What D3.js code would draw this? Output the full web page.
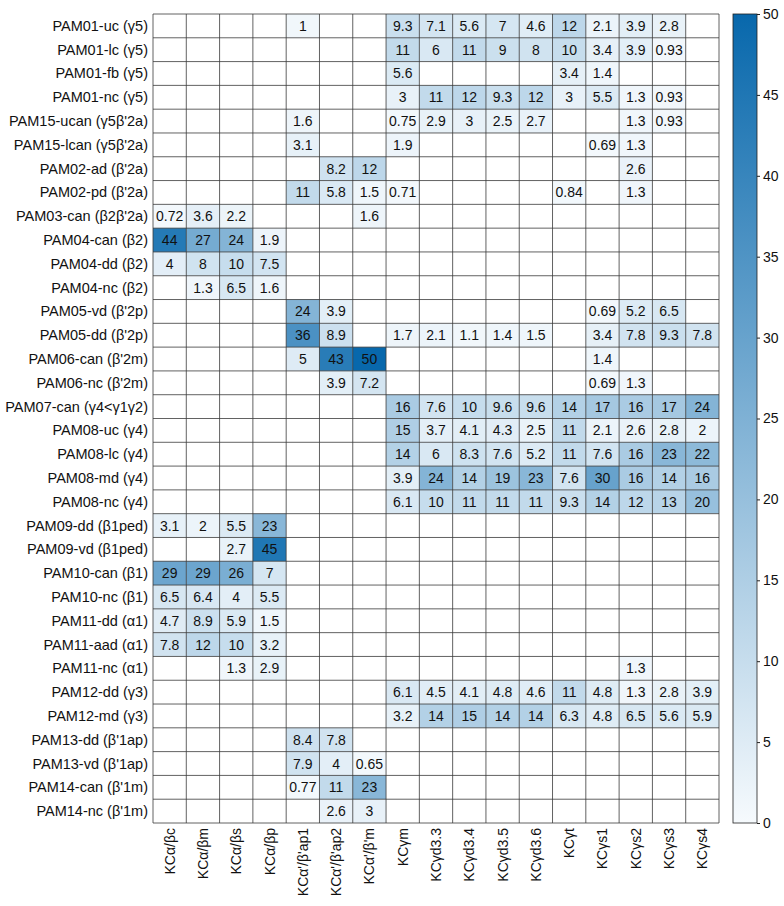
<!DOCTYPE html>
<html lang="en">
<head>
    <meta charset="UTF-8">
    <title>PAM to KC heatmap</title>
    <script src="https://d3js.org/d3.v7.min.js"></script>
    <style>
        body { margin: 0; background: #fff; font-family: "Liberation Sans", Arial, sans-serif; }
        svg text { font-family: "Liberation Sans", Arial, sans-serif; fill: #111; }
    </style>
</head>
<body>
<svg id="chart" width="784" height="906"></svg>
<script>
// Row labels (PAM neuron types)
const rows = [
    "PAM01-uc (γ5)", "PAM01-lc (γ5)", "PAM01-fb (γ5)", "PAM01-nc (γ5)",
    "PAM15-ucan (γ5β'2a)", "PAM15-lcan (γ5β'2a)",
    "PAM02-ad (β'2a)", "PAM02-pd (β'2a)", "PAM03-can (β2β'2a)",
    "PAM04-can (β2)", "PAM04-dd (β2)", "PAM04-nc (β2)",
    "PAM05-vd (β'2p)", "PAM05-dd (β'2p)",
    "PAM06-can (β'2m)", "PAM06-nc (β'2m)",
    "PAM07-can (γ4<γ1γ2)",
    "PAM08-uc (γ4)", "PAM08-lc (γ4)", "PAM08-md (γ4)", "PAM08-nc (γ4)",
    "PAM09-dd (β1ped)", "PAM09-vd (β1ped)",
    "PAM10-can (β1)", "PAM10-nc (β1)",
    "PAM11-dd (α1)", "PAM11-aad (α1)", "PAM11-nc (α1)",
    "PAM12-dd (γ3)", "PAM12-md (γ3)",
    "PAM13-dd (β'1ap)", "PAM13-vd (β'1ap)",
    "PAM14-can (β'1m)", "PAM14-nc (β'1m)"
];

// Column labels (KC types)
const cols = [
    "KCα/βc", "KCα/βm", "KCα/βs", "KCα/βp",
    "KCα'/β'ap1", "KCα'/β'ap2", "KCα'/β'm",
    "KCγm", "KCγd3.3", "KCγd3.4", "KCγd3.5", "KCγd3.6",
    "KCγt", "KCγs1", "KCγs2", "KCγs3", "KCγs4"
];

// Values, one array per row (null = empty cell)
const _ = null;
const values = [
    [_, _, _, _, 1, _, _, 9.3, 7.1, 5.6, 7, 4.6, 12, 2.1, 3.9, 2.8, _],
    [_, _, _, _, _, _, _, 11, 6, 11, 9, 8, 10, 3.4, 3.9, 0.93, _],
    [_, _, _, _, _, _, _, 5.6, _, _, _, _, 3.4, 1.4, _, _, _],
    [_, _, _, _, _, _, _, 3, 11, 12, 9.3, 12, 3, 5.5, 1.3, 0.93, _],
    [_, _, _, _, 1.6, _, _, 0.75, 2.9, 3, 2.5, 2.7, _, _, 1.3, 0.93, _],
    [_, _, _, _, 3.1, _, _, 1.9, _, _, _, _, _, 0.69, 1.3, _, _],
    [_, _, _, _, _, 8.2, 12, _, _, _, _, _, _, _, 2.6, _, _],
    [_, _, _, _, 11, 5.8, 1.5, 0.71, _, _, _, _, 0.84, _, 1.3, _, _],
    [0.72, 3.6, 2.2, _, _, _, 1.6, _, _, _, _, _, _, _, _, _, _],
    [44, 27, 24, 1.9, _, _, _, _, _, _, _, _, _, _, _, _, _],
    [4, 8, 10, 7.5, _, _, _, _, _, _, _, _, _, _, _, _, _],
    [_, 1.3, 6.5, 1.6, _, _, _, _, _, _, _, _, _, _, _, _, _],
    [_, _, _, _, 24, 3.9, _, _, _, _, _, _, _, 0.69, 5.2, 6.5, _],
    [_, _, _, _, 36, 8.9, _, 1.7, 2.1, 1.1, 1.4, 1.5, _, 3.4, 7.8, 9.3, 7.8],
    [_, _, _, _, 5, 43, 50, _, _, _, _, _, _, 1.4, _, _, _],
    [_, _, _, _, _, 3.9, 7.2, _, _, _, _, _, _, 0.69, 1.3, _, _],
    [_, _, _, _, _, _, _, 16, 7.6, 10, 9.6, 9.6, 14, 17, 16, 17, 24],
    [_, _, _, _, _, _, _, 15, 3.7, 4.1, 4.3, 2.5, 11, 2.1, 2.6, 2.8, 2],
    [_, _, _, _, _, _, _, 14, 6, 8.3, 7.6, 5.2, 11, 7.6, 16, 23, 22],
    [_, _, _, _, _, _, _, 3.9, 24, 14, 19, 23, 7.6, 30, 16, 14, 16],
    [_, _, _, _, _, _, _, 6.1, 10, 11, 11, 11, 9.3, 14, 12, 13, 20],
    [3.1, 2, 5.5, 23, _, _, _, _, _, _, _, _, _, _, _, _, _],
    [_, _, 2.7, 45, _, _, _, _, _, _, _, _, _, _, _, _, _],
    [29, 29, 26, 7, _, _, _, _, _, _, _, _, _, _, _, _, _],
    [6.5, 6.4, 4, 5.5, _, _, _, _, _, _, _, _, _, _, _, _, _],
    [4.7, 8.9, 5.9, 1.5, _, _, _, _, _, _, _, _, _, _, _, _, _],
    [7.8, 12, 10, 3.2, _, _, _, _, _, _, _, _, _, _, _, _, _],
    [_, _, 1.3, 2.9, _, _, _, _, _, _, _, _, _, _, 1.3, _, _],
    [_, _, _, _, _, _, _, 6.1, 4.5, 4.1, 4.8, 4.6, 11, 4.8, 1.3, 2.8, 3.9],
    [_, _, _, _, _, _, _, 3.2, 14, 15, 14, 14, 6.3, 4.8, 6.5, 5.6, 5.9],
    [_, _, _, _, 8.4, 7.8, _, _, _, _, _, _, _, _, _, _, _],
    [_, _, _, _, 7.9, 4, 0.65, _, _, _, _, _, _, _, _, _, _],
    [_, _, _, _, 0.77, 11, 23, _, _, _, _, _, _, _, _, _, _],
    [_, _, _, _, _, 2.6, 3, _, _, _, _, _, _, _, _, _, _]
];

// Colour bar ticks
const cbarTicks = [0, 5, 10, 15, 20, 25, 30, 35, 40, 45, 50];

const svg = d3.select("#chart");
const gLeft = 153, gRight = 719, gTop = 14, gBottom = 823;

const x = d3.scaleBand().domain(cols).range([gLeft, gRight]);
const y = d3.scaleBand().domain(rows).range([gTop, gBottom]);
const color = d3.scaleLinear().domain([0, 50]).range(["#f6fafd", "#0868ac"]);

// flatten cells
const cells = [];
values.forEach((row, i) => row.forEach((v, j) => {
    cells.push({ r: rows[i], c: cols[j], v: v });
}));

// heatmap cells
svg.append("g").selectAll("rect")
    .data(cells)
    .enter().append("rect")
    .attr("x", d => x(d.c))
    .attr("y", d => y(d.r))
    .attr("width", x.bandwidth())
    .attr("height", y.bandwidth())
    .attr("fill", d => d.v == null ? "#ffffff" : color(d.v));

// grid lines
const grid = svg.append("g").attr("stroke", "#3a3a3a").attr("stroke-width", 0.8);
cols.concat([null]).forEach(c => {
    const xx = c == null ? gRight : x(c);
    grid.append("line").attr("x1", xx).attr("x2", xx).attr("y1", gTop).attr("y2", gBottom);
});
rows.concat([null]).forEach(r => {
    const yy = r == null ? gBottom : y(r);
    grid.append("line").attr("x1", gLeft).attr("x2", gRight).attr("y1", yy).attr("y2", yy);
});

// cell annotations
svg.append("g").selectAll("text")
    .data(cells.filter(d => d.v != null))
    .enter().append("text")
    .attr("x", d => x(d.c) + x.bandwidth() / 2)
    .attr("y", d => y(d.r) + y.bandwidth() / 2)
    .attr("text-anchor", "middle")
    .attr("dominant-baseline", "central")
    .style("font-size", "14px")
    .text(d => d.v);

// row labels
svg.append("g").selectAll("text")
    .data(rows)
    .enter().append("text")
    .attr("x", gLeft - 5)
    .attr("y", d => y(d) + y.bandwidth() / 2)
    .attr("text-anchor", "end")
    .attr("dominant-baseline", "central")
    .style("font-size", "14.5px")
    .text(d => d);

// column labels, rotated
svg.append("g").selectAll("text")
    .data(cols)
    .enter().append("text")
    .attr("transform", d => `translate(${x(d) + x.bandwidth() / 2},${gBottom + 5}) rotate(-90)`)
    .attr("text-anchor", "end")
    .attr("dominant-baseline", "central")
    .style("font-size", "14px")
    .text(d => d);

// colour bar
const cbX = 733, cbW = 24;
const cbScale = d3.scaleLinear().domain([0, 50]).range([gBottom, gTop]);
const defs = svg.append("defs");
const grad = defs.append("linearGradient").attr("id", "cbar")
    .attr("x1", "0").attr("y1", "1").attr("x2", "0").attr("y2", "0");
grad.append("stop").attr("offset", "0%").attr("stop-color", color(0));
grad.append("stop").attr("offset", "100%").attr("stop-color", color(50));
svg.append("rect")
    .attr("x", cbX).attr("y", gTop)
    .attr("width", cbW).attr("height", gBottom - gTop)
    .attr("fill", "url(#cbar)")
    .attr("stroke", "#222").attr("stroke-width", 0.8);

const cbAxis = svg.append("g")
    .attr("transform", `translate(${cbX + cbW},0)`)
    .call(d3.axisRight(cbScale).tickValues(cbarTicks).tickSize(3).tickPadding(3));
cbAxis.select(".domain").remove();
cbAxis.selectAll("line").attr("stroke", "#222");
cbAxis.selectAll("text").style("font-size", "14px").attr("fill", "#111");
</script>
</body>
</html>
